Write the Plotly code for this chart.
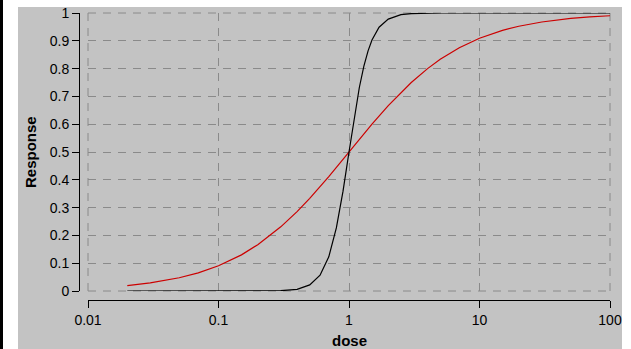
import plotly.graph_objects as go

# Data
dose_black = [0.02, 0.05, 0.1, 0.2, 0.3, 0.4, 0.5, 0.6, 0.7, 0.8, 0.9, 1.0, 1.1, 1.2,
              1.3, 1.4, 1.5, 1.7, 2.0, 2.5, 3.0, 4.0, 5.0, 10.0, 20.0, 50.0, 100.0]
resp_black = [0.0, 0.0, 0.0, 0.0001, 0.001, 0.006, 0.022, 0.057, 0.123, 0.227, 0.359, 0.5,
              0.628, 0.732, 0.809, 0.864, 0.903, 0.949, 0.978, 0.994, 0.998, 0.9995, 1.0,
              1.0, 1.0, 1.0, 1.0]

dose_red = [0.02, 0.03, 0.05, 0.07, 0.1, 0.15, 0.2, 0.3, 0.4, 0.5, 0.7, 1.0, 1.5, 2.0,
            3.0, 4.0, 5.0, 7.0, 10.0, 15.0, 20.0, 30.0, 50.0, 70.0, 100.0]
resp_red = [0.0196, 0.029, 0.0476, 0.0654, 0.0909, 0.130, 0.1667, 0.2308, 0.2857, 0.3333,
            0.4118, 0.5, 0.6, 0.6667, 0.75, 0.8, 0.8333, 0.875, 0.9091, 0.9375, 0.9524,
            0.9677, 0.9804, 0.9859, 0.9901]

x_ticks = [0.01, 0.1, 1, 10, 100]
x_ticktext = ["0.01", "0.1", "1", "10", "100"]
y_ticks = [0, 0.1, 0.2, 0.3, 0.4, 0.5, 0.6, 0.7, 0.8, 0.9, 1.0]
y_ticktext = ["0", "0.1", "0.2", "0.3", "0.4", "0.5", "0.6", "0.7", "0.8", "0.9", "1"]

W, H = 631, 349
BG = "#c3c3c3"
GRID = "#8a8a8a"
DASH = "8px,7px"
FONT = "Liberation Sans, Arial, sans-serif"

def px_x(p):
    return p / W

def px_y(p):
    return 1 - p / H

fig = go.Figure()
fig.add_trace(go.Scatter(x=dose_red, y=resp_red, mode="lines",
                         line=dict(color="#cc0000", width=1.2), showlegend=False))
fig.add_trace(go.Scatter(x=dose_black, y=resp_black, mode="lines",
                         line=dict(color="black", width=1.2), showlegend=False))

axis_common = dict(
    ticks="outside", ticklen=7, tickcolor="black", tickwidth=1,
    showline=True, linecolor="black", linewidth=1,
    showgrid=True, gridcolor=GRID, gridwidth=1, griddash=DASH,
    zeroline=False, tickfont=dict(size=14), automargin=False,
)

edge_line = dict(color=GRID, width=1, dash=DASH)
edge_shapes = [
    # grid lines on the plot-area border (plotly omits them at range ends)
    dict(type="line", xref="x domain", yref="y domain", x0=0, x1=0, y0=1, y1=0,
         line=edge_line, layer="below"),
    dict(type="line", xref="x domain", yref="y domain", x0=1, x1=1, y0=1, y1=0,
         line=edge_line, layer="below"),
    dict(type="line", xref="x domain", yref="y domain", x0=0, x1=1, y0=0, y1=0,
         line=edge_line, layer="below"),
    dict(type="line", xref="x domain", yref="y domain", x0=0, x1=1, y0=1, y1=1,
         line=edge_line, layer="below"),
]

fig.update_layout(
    template="none",
    width=W, height=H, autosize=False,
    margin=dict(l=0, r=0, t=0, b=0, pad=0, autoexpand=False),
    paper_bgcolor="white",
    plot_bgcolor=BG,
    showlegend=False,
    font=dict(family=FONT, size=14, color="black"),
    xaxis=dict(
        type="log", range=[-2, 2],
        domain=[px_x(88), px_x(610)],
        anchor="free", position=px_y(300),
        tickvals=x_ticks, ticktext=x_ticktext,
        **axis_common,
    ),
    yaxis=dict(
        range=[0, 1],
        domain=[px_y(291), px_y(13)],
        anchor="free", position=px_x(79),
        tickvals=y_ticks, ticktext=y_ticktext,
        **axis_common,
    ),
    shapes=[
        dict(type="rect", xref="paper", yref="paper", x0=px_x(18), x1=px_x(622),
             y0=0, y1=px_y(7), fillcolor=BG, line=dict(width=0), layer="below"),
        dict(type="rect", xref="paper", yref="paper", x0=0, x1=px_x(3),
             y0=0, y1=1, fillcolor="black", line=dict(width=0), layer="below"),
    ] + edge_shapes,
    annotations=[
        dict(text="<b>dose</b>", xref="paper", yref="paper", x=px_x(349), y=px_y(340),
             showarrow=False, font=dict(size=15), xanchor="center", yanchor="middle"),
        dict(text="<b>Response</b>", xref="paper", yref="paper", x=px_x(30), y=px_y(152),
             showarrow=False, font=dict(size=15), textangle=-90,
             xanchor="center", yanchor="middle"),
    ],
)

fig.write_html(
    "out.html",
    config={"displayModeBar": False},
    post_script="document.body.style.margin='0';document.body.style.overflow='hidden';",
)
